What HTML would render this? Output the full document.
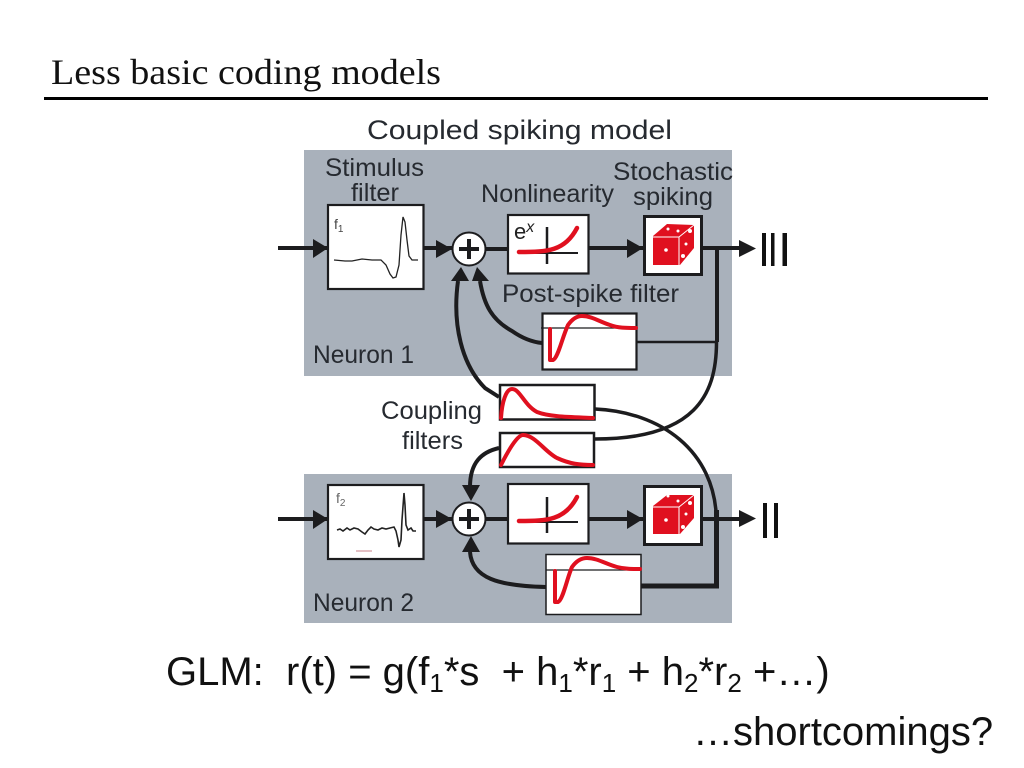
<!DOCTYPE html>
<html><head><meta charset="utf-8"><style>
html,body{margin:0;padding:0;background:#fff;width:1024px;height:768px;overflow:hidden}
svg{display:block}
.s{font-family:"Liberation Sans",sans-serif}
.d{font-family:"Liberation Sans",sans-serif;font-size:25px;fill:#262a30}
.k{fill:none;stroke:#1c1c1e;stroke-width:4}
.t{fill:none;stroke:#1c1c1e;stroke-width:2.500}
.r{fill:none;stroke:#e0101f;stroke-width:4;stroke-linecap:round;stroke-linejoin:round}
.b{fill:#fff;stroke:#1c1c1e}
</style></head><body>
<svg width="1024" height="768" viewBox="0 0 1024 768" xmlns="http://www.w3.org/2000/svg">
<text x="51" y="84" font-family="Liberation Serif, serif" font-size="36" fill="#111" textLength="390" lengthAdjust="spacingAndGlyphs">Less basic coding models</text>
<rect x="44" y="97" width="944" height="3" fill="#000"/>

<rect x="304" y="150" width="428" height="226" fill="#a9b1bb"/>
<rect x="304" y="474" width="428" height="149" fill="#a9b1bb"/>

<text class="d" x="367" y="139" style="font-size:27px" textLength="305" lengthAdjust="spacingAndGlyphs">Coupled spiking model</text>
<text class="d" x="325" y="176" textLength="99" lengthAdjust="spacingAndGlyphs">Stimulus</text>
<text class="d" x="351" y="201" textLength="48" lengthAdjust="spacingAndGlyphs">filter</text>
<text class="d" x="481" y="202" textLength="133" lengthAdjust="spacingAndGlyphs">Nonlinearity</text>
<text class="d" x="613" y="180" textLength="120" lengthAdjust="spacingAndGlyphs">Stochastic</text>
<text class="d" x="633" y="205" textLength="80" lengthAdjust="spacingAndGlyphs">spiking</text>
<text class="d" x="502" y="302" textLength="177" lengthAdjust="spacingAndGlyphs">Post-spike filter</text>
<text class="d" x="313" y="363" textLength="101" lengthAdjust="spacingAndGlyphs">Neuron 1</text>
<text class="d" x="381" y="419" textLength="101" lengthAdjust="spacingAndGlyphs">Coupling</text>
<text class="d" x="402" y="449" textLength="61" lengthAdjust="spacingAndGlyphs">filters</text>
<text class="d" x="313" y="611" textLength="101" lengthAdjust="spacingAndGlyphs">Neuron 2</text>

<!-- connectors -->
<path class="k" d="M278 248H330M424 248H455M483 249H507M589 248H645M703 248H740"/>
<path class="k" d="M278 519H330M424 519H455M483 519H507M589 519H645M703 519H740"/>
<path class="k" d="M717 248V342"/>
<path class="t" d="M637 342H717"/>
<path class="k" style="stroke-width:3.500" d="M716.500 342C716.500 395 695 439 595 439"/>
<path class="k" style="stroke-width:3.500" d="M595 409C660 412 715 450 716.500 520"/>
<path class="k" style="stroke-width:5" d="M641 586H716.500V510"/>
<path class="k" d="M480 281C484 305 492 320 512 331C522 338 532 342 542 343"/>
<path class="k" d="M458 281C452 325 462 365 485 388L499 397"/>
<path class="k" d="M499 448C482 452 470 462 470 487"/>
<path class="k" d="M470 552C472 578 498 586 546 587"/>

<!-- arrowheads -->
<g fill="#1c1c1e">
<path d="M313 239L328 248L313 258Z"/><path d="M436 240L452 249L436 258Z"/>
<path d="M627 239L643 248L627 258Z"/><path d="M739 240L756 248.500L739 257Z"/>
<path d="M313 510L328 519L313 529Z"/><path d="M436 510L452 519L436 528Z"/>
<path d="M627 510L643 519L627 529Z"/><path d="M739 510L756 518.500L739 527Z"/>
<path d="M451 281L461 267L469 281Z"/><path d="M472 281L477 267L489 281Z"/>
<path d="M462 485H480L471 501Z"/><path d="M462 552L471 536L480 552Z"/>
</g>
<rect x="762" y="233" width="4" height="33" fill="#111"/><rect x="771" y="233" width="3.500" height="33" fill="#111"/><rect x="782.500" y="233" width="4.500" height="33" fill="#111"/>
<rect x="763" y="503" width="4" height="35" fill="#111"/><rect x="774" y="503" width="4" height="35" fill="#111"/>

<!-- sum nodes -->
<circle cx="469" cy="249" r="16.500" fill="#fff" stroke="#1c1c1e" stroke-width="2"/>
<path d="M459 249H479M469 239V259" stroke="#1c1c1e" stroke-width="4"/>
<circle cx="469" cy="519" r="16.500" fill="#fff" stroke="#1c1c1e" stroke-width="2"/>
<path d="M459 519H479M469 509V529" stroke="#1c1c1e" stroke-width="4"/>

<!-- stimulus filter 1 -->
<rect class="b" x="328" y="205" width="95.500" height="84" stroke-width="2.200"/>
<text x="334" y="229" font-family="Liberation Sans,sans-serif" font-size="14" fill="#444">f<tspan font-size="10" dy="3">1</tspan></text>
<path d="M334 260L345 261L352 261L362 259L372 260L381 260L386 265L390 274L393 278L396 277L399 265L401 235L403 217L405 222L407 240L409 256L412 260L418 260" fill="none" stroke="#222" stroke-width="1.300"/>
<!-- stimulus filter 2 -->
<rect class="b" x="328" y="485" width="95.500" height="74" stroke-width="2.200"/>
<text x="336" y="503" font-family="Liberation Sans,sans-serif" font-size="14" fill="#666">f<tspan font-size="10" dy="3">2</tspan></text>
<path d="M337 530L340 529L343 531L347 528L350 530L354 528L358 529L362 532L365 534L368 530L371 527L374 529L378 530L382 528L386 529L390 528L394 527L396 531L398 540L399 547L401 540L402 520L404 493L405 505L406 525L408 530L411 528L413 531L416 531" fill="none" stroke="#222" stroke-width="1.600"/>
<path d="M356 551H372" stroke="#c8808a" stroke-width="1"/>

<!-- nonlinearity 1 -->
<rect class="b" x="508" y="215" width="80.500" height="58.500" stroke-width="2.200"/>
<text x="514" y="239" font-family="Liberation Sans,sans-serif" font-size="22" fill="#222">e<tspan font-size="16" font-style="italic" dy="-7">x</tspan></text>
<path d="M547 227V264" stroke="#1c1c1e" stroke-width="2.500"/><path d="M534 253H578" stroke="#1c1c1e" stroke-width="2"/>
<path class="r" style="stroke-width:4.500" d="M519 252C548 252 565 251 577 228"/>
<!-- nonlinearity 2 -->
<rect class="b" x="508" y="484" width="80.500" height="59.500" stroke-width="2.200"/>
<path d="M547 497V533" stroke="#1c1c1e" stroke-width="2.500"/><path d="M534 522H578" stroke="#1c1c1e" stroke-width="2"/>
<path class="r" style="stroke-width:4.500" d="M519 521C548 521 565 520 577 497"/>

<!-- dice 1 -->
<rect class="b" x="644.500" y="216.500" width="57" height="58" stroke-width="3"/>
<path d="M653 236L667 224L694 225L694 248L680 265H653Z" fill="#e0101f"/>
<path d="M653 237H679V265M679 237L694 225" fill="none" stroke="#fff" stroke-width="1"/>
<circle cx="666" cy="250" r="1.800" fill="#fff"/><circle cx="668" cy="229" r="1.500" fill="#fff"/><circle cx="678" cy="231" r="1.500" fill="#fff"/><circle cx="690" cy="231" r="2" fill="#fff"/><circle cx="686" cy="244" r="1.500" fill="#fff"/><circle cx="683" cy="256" r="2" fill="#fff"/>
<!-- dice 2 -->
<rect class="b" x="644.500" y="486.500" width="57" height="58" stroke-width="3"/>
<path d="M653 506L667 495L694 495L694 518L680 534H653Z" fill="#e0101f"/>
<path d="M653 507H679V534M679 507L694 495" fill="none" stroke="#fff" stroke-width="1"/>
<circle cx="666" cy="520" r="1.800" fill="#fff"/><circle cx="668" cy="496" r="1.500" fill="#fff"/><circle cx="678" cy="501" r="1.500" fill="#fff"/><circle cx="690" cy="503" r="2" fill="#fff"/><circle cx="686" cy="514" r="1.500" fill="#fff"/><circle cx="683" cy="527" r="2" fill="#fff"/>

<!-- post spike 1 -->
<rect class="b" x="542.500" y="313.500" width="94" height="56" stroke-width="2.200"/>
<path d="M541 328H637" stroke="#1c1c1e" stroke-width="1.200"/>
<path class="r" d="M550 329V360H553C558 358 562 338 568 325C573 318 578 316 582 316C592 316 600 322 610 325C618 328 626 328 636 328"/>
<!-- post spike 2 -->
<rect class="b" x="546" y="554.500" width="95" height="60" stroke-width="1.500"/>
<path d="M546 570H641" stroke="#1c1c1e" stroke-width="1.200"/>
<path class="r" d="M555 571V602H558C563 600 567 578 572 567C577 560 582 558 587 558C597 558 606 564 617 567C625 569 632 569 640 569"/>

<!-- coupling filters -->
<rect class="b" x="500" y="385" width="94.500" height="34.500" stroke-width="2.500"/>
<path class="r" d="M501 418C502 402 506 389 512 389C520 389 524 405 537 412C550 417 570 417 593 418"/>
<rect class="b" x="500" y="433" width="94" height="34" stroke-width="2.500"/>
<path class="r" d="M501 465C510 447 518 435 523 435C535 435 545 452 557 458C570 464 580 465 593 465"/>

<!-- equations -->
<text class="s" x="166" y="685" font-size="40" fill="#111" xml:space="preserve">GLM:  r(t) = g(f<tspan font-size="26" dy="7">1</tspan><tspan dy="-7">*s  + h</tspan><tspan font-size="26" dy="7">1</tspan><tspan dy="-7">*r</tspan><tspan font-size="26" dy="7">1</tspan><tspan dy="-7"> + h</tspan><tspan font-size="26" dy="7">2</tspan><tspan dy="-7">*r</tspan><tspan font-size="26" dy="7">2</tspan><tspan dy="-7"> +…)</tspan></text>
<text class="s" x="693" y="745" font-size="40" fill="#111">…shortcomings?</text>
</svg>
</body></html>
